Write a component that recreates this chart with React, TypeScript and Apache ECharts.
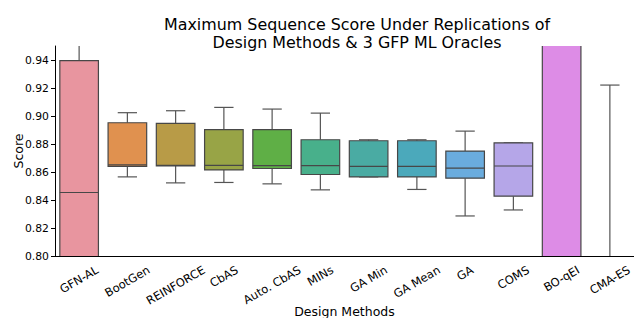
import React, { useEffect, useRef } from "react";
import * as echarts from "echarts";

const categories = ["GFN-AL", "BootGen", "REINFORCE", "CbAS", "Auto. CbAS", "MINs", "GA Min", "GA Mean", "GA", "COMS", "BO-qEI", "CMA-ES"];
const whiskerLow = [0.70, 0.8567, 0.8524, 0.8527, 0.8517, 0.8474, 0.8567, 0.8477, 0.8287, 0.8330, 0.60, 0.60];
const q1 = [0.78, 0.8642, 0.8645, 0.8617, 0.8627, 0.8584, 0.8567, 0.8567, 0.8558, 0.8429, 0.70, 0.66];
const median = [0.8455, 0.8653, 0.8649, 0.8649, 0.8647, 0.8647, 0.8642, 0.8642, 0.8630, 0.8645, 0.97, 0.70];
const q3 = [0.940, 0.8955, 0.8950, 0.8905, 0.8905, 0.8833, 0.8826, 0.8826, 0.8752, 0.8811, 1.00, 0.74];
const whiskerHigh = [0.99, 0.9027, 0.9041, 0.9065, 0.9053, 0.9024, 0.8833, 0.8833, 0.8895, 0.8811, 1.10, 0.9225];
const colors = ["#e8959f", "#e0914f", "#b89b47", "#98a446", "#5faf46", "#48b08b", "#4aaba3", "#4ba9bb", "#6aacde", "#b5a6e8", "#dd8ce6", "#e590c4"];
const yTicks = [0.80, 0.82, 0.84, 0.86, 0.88, 0.90, 0.92, 0.94];

const FONT = "DejaVu Sans";
const LABEL_SIZE = 11.5;
const Y_MIN = 0.80;

export default function App() {
  const ref = useRef<HTMLDivElement>(null);
  useEffect(() => {
    if (!ref.current) return;
    const chart = echarts.init(ref.current, null, { renderer: "svg" });
    const data = categories.map((_, i) => [i, whiskerLow[i], q1[i], median[i], q3[i], whiskerHigh[i]]);

    chart.setOption({
      animation: false,
      textStyle: { fontFamily: FONT },
      title: {
        text: "Maximum Sequence Score Under Replications of\nDesign Methods & 3 GFP ML Oracles",
        left: 352,
        top: 10,
        textAlign: "center",
        textStyle: { fontFamily: FONT, fontSize: 15.9, fontWeight: "normal", color: "#000", lineHeight: 18.5 },
      },
      grid: { left: 55, right: 0, top: 46, bottom: 62, containLabel: false, outerBoundsMode: "none" },
      xAxis: {
        type: "category",
        data: categories,
        name: "Design Methods",
        nameLocation: "middle",
        nameGap: 49,
        nameMoveOverlap: false,
        nameTextStyle: { fontFamily: FONT, fontSize: 12.5, color: "#000" },
        axisLine: { lineStyle: { color: "#000", width: 1 } },
        axisTick: { alignWithLabel: true, length: 4, lineStyle: { color: "#000" } },
        axisLabel: { show: false, interval: 0 },
      },
      yAxis: {
        type: "value",
        min: Y_MIN,
        max: 0.9505,
        name: "Score",
        nameLocation: "middle",
        nameGap: 30,
        nameMoveOverlap: false,
        nameTextStyle: { fontFamily: FONT, fontSize: 12.5, color: "#000" },
        splitLine: { show: false },
        axisLine: { show: true, lineStyle: { color: "#000", width: 1 } },
        axisTick: { show: true, length: 4, lineStyle: { color: "#000" }, customValues: yTicks },
        axisLabel: {
          fontFamily: FONT, fontSize: 10.8, color: "#000", margin: 6,
          customValues: yTicks,
          formatter: (v: number) => v.toFixed(2),
        },
      },
      series: [
        {
          type: "custom",
          clip: true,
          data,
          renderItem: (params: any, api: any) => {
            const x = api.value(0);
            const lo = api.coord([x, api.value(1)]);
            const b1 = api.coord([x, api.value(2)]);
            const md = api.coord([x, api.value(3)]);
            const b3 = api.coord([x, api.value(4)]);
            const hi = api.coord([x, api.value(5)]);
            const bw = api.size([1, 0])[0] * 0.8;
            const cap = bw / 2;
            const cx = lo[0];
            const edge = "#474747";
            const wstyle = { stroke: "#555555", lineWidth: 1.2 };
            const idx = params.dataIndex;
            return {
              type: "group",
              children: [
                { type: "line", shape: { x1: cx, y1: b3[1], x2: cx, y2: hi[1] }, style: wstyle },
                { type: "line", shape: { x1: cx, y1: b1[1], x2: cx, y2: lo[1] }, style: wstyle },
                { type: "line", shape: { x1: cx - cap / 2, y1: hi[1], x2: cx + cap / 2, y2: hi[1] }, style: wstyle },
                { type: "line", shape: { x1: cx - cap / 2, y1: lo[1], x2: cx + cap / 2, y2: lo[1] }, style: wstyle },
                {
                  type: "rect",
                  shape: { x: cx - bw / 2, y: b3[1], width: bw, height: b1[1] - b3[1] },
                  style: { fill: colors[idx], stroke: edge, lineWidth: 1.2 },
                },
                { type: "line", shape: { x1: cx - bw / 2, y1: md[1], x2: cx + bw / 2, y2: md[1] }, style: { stroke: edge, lineWidth: 1.2 } },
              ],
            };
          },
          encode: { x: 0, y: [1, 2, 3, 4, 5] },
        },
      ],
    });

    // matplotlib-style rotated tick labels: rotated bbox centred on tick, top-aligned below it
    const canvas = document.createElement("canvas");
    const ctx = canvas.getContext("2d")!;
    ctx.font = `${LABEL_SIZE}px "${FONT}"`;
    const ang = Math.PI / 6;
    const axisY = chart.convertToPixel({ yAxisIndex: 0 }, Y_MIN) as number;
    const labels = categories.map((c, i) => {
      const tx = chart.convertToPixel({ xAxisIndex: 0 }, i) as number;
      const w = ctx.measureText(c).width;
      const h = LABEL_SIZE * 1.17;
      const H = w * Math.sin(ang) + h * Math.cos(ang);
      return {
        type: "text",
        x: tx,
        y: axisY + 7 + H / 2,
        rotation: ang,
        silent: true,
        style: {
          text: c,
          fontFamily: FONT,
          fontSize: LABEL_SIZE,
          fill: "#000",
          align: "center",
          verticalAlign: "middle",
          textAlign: "center",
          textVerticalAlign: "middle",
        },
      };
    });
    chart.setOption({ graphic: labels });

    return () => chart.dispose();
  }, []);
  return <div ref={ref} style={{ width: 634, height: 318, position: "absolute", left: 0, top: 0 }} />;
}
